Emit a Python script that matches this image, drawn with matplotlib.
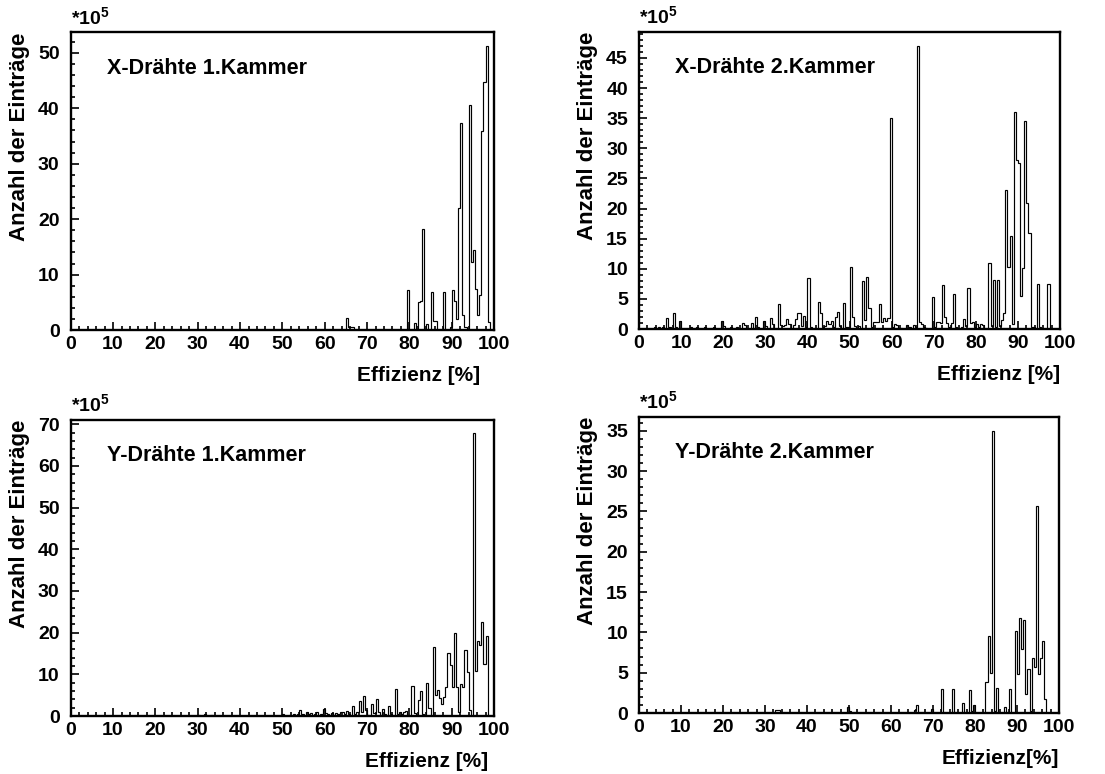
import numpy as np
import matplotlib
matplotlib.use("Agg")
import matplotlib.pyplot as plt
from matplotlib.ticker import MultipleLocator

plt.rcParams["font.family"] = ["Liberation Sans", "DejaVu Sans"]
plt.rcParams["font.weight"] = "bold"
plt.rcParams["mathtext.fontset"] = "custom"
plt.rcParams["mathtext.rm"] = "Liberation Sans:bold"
plt.rcParams["mathtext.bf"] = "Liberation Sans:bold"

# bin width 0.5 %, only non-empty bins listed (left edge, entries / 1e5)
x1_left = [65.0, 65.5, 66.0, 66.5, 79.5, 81.0, 82.0, 82.5, 83.0, 84.0, 85.0, 85.5,
           86.0, 88.0, 89.5, 90.0, 90.5, 91.0, 91.5, 92.0, 92.5, 93.0, 94.0, 94.5,
           95.0, 95.5, 96.0, 96.5, 97.0, 97.5, 98.0, 98.5]
x1_count = [2.2, 0.6, 0.6, 0.5, 7.2, 1.2, 5.0, 5.3, 18.3, 1.0, 6.9, 1.6,
            1.6, 6.9, 0.6, 7.2, 5.2, 2.0, 22.0, 37.3, 2.7, 0.6, 40.6, 12.2,
            14.4, 7.4, 2.7, 6.4, 35.9, 44.8, 51.2, 1.5]

x2_left = [3.5, 4.5, 5.5, 6.5, 7.0, 8.0, 8.5, 9.5, 12.0, 13.5, 15.5, 17.5, 19.5, 20.0,
           21.5, 23.0, 24.5, 25.0, 26.5, 27.5, 28.0, 29.5, 30.0, 31.0, 31.5, 33.0,
           33.5, 34.0, 34.5, 35.0, 35.5, 36.5, 37.0, 37.5, 38.0, 38.5, 39.0, 39.5,
           40.0, 40.5, 42.5, 43.0, 43.5, 44.0, 44.5, 45.0, 45.5, 46.0, 46.5, 47.0,
           47.5, 48.5, 49.0, 49.5, 50.0, 50.5, 51.0, 52.0, 53.0, 53.5, 54.0, 54.5,
           55.0, 55.5, 56.0, 56.5, 57.0, 57.5, 58.0, 58.5, 59.0, 59.5, 60.0, 60.5,
           61.0, 62.0, 63.5, 64.0, 65.0, 65.5, 66.0, 66.5, 67.0, 67.5, 68.0, 69.5,
           70.0, 70.5, 71.0, 71.5, 72.0, 72.5, 73.0, 73.5, 74.0, 74.5, 75.0, 76.5,
           77.0, 77.5, 78.0, 78.5, 79.0, 79.5, 80.0, 80.5, 81.0, 81.5, 83.0, 83.5,
           84.0, 84.5, 85.0, 85.5, 86.0, 86.5, 87.0, 87.5, 88.0, 88.5, 89.0, 89.5,
           90.0, 90.5, 91.0, 91.5, 92.0, 92.5, 93.0, 93.5, 94.5, 95.0, 97.0]
x2_count = [0.4, 0.3, 0.4, 1.8, 0.3, 2.7, 0.4, 1.4, 0.4, 0.4, 0.4, 0.4, 1.4, 0.5,
            0.4, 0.4, 1.0, 0.6, 1.0, 2.0, 0.3, 1.3, 0.5, 1.8, 0.9, 4.2,
            0.6, 0.5, 0.6, 1.7, 0.8, 0.6, 1.7, 2.6, 2.6, 0.5, 2.2, 0.4,
            8.5, 0.3, 4.5, 2.6, 0.4, 0.5, 1.4, 0.9, 1.4, 0.4, 2.0, 2.8,
            0.5, 4.3, 0.3, 0.3, 10.3, 2.0, 0.5, 0.5, 8.0, 1.5, 8.6, 3.5,
            0.4, 1.2, 1.2, 1.2, 4.2, 1.2, 1.8, 1.3, 1.8, 35.0, 0.4, 0.8,
            0.7, 0.2, 0.7, 0.3, 0.7, 0.4, 47.0, 1.2, 0.8, 0.4, 0.2, 5.3,
            0.3, 1.1, 1.1, 1.0, 7.3, 2.0, 1.0, 0.3, 1.0, 5.8, 0.4, 0.3,
            1.7, 0.5, 6.8, 1.0, 1.2, 0.4, 0.8, 0.3, 0.8, 0.6, 11.0, 0.5,
            8.1, 0.4, 8.1, 0.5, 1.5, 2.7, 23.0, 10.3, 15.5, 0.8, 36.0, 28.0,
            27.5, 5.5, 10.2, 34.5, 21.0, 16.0, 0.4, 0.4, 7.4, 0.3, 7.5]

y1_left = [30.0, 31.5, 33.0, 50.0, 51.5, 52.5, 53.5, 54.0, 54.5, 55.5, 56.0, 56.5,
           57.5, 58.0, 59.0, 59.5, 60.0, 60.5, 61.5, 62.0, 62.5, 63.0, 63.5, 64.0,
           64.5, 65.0, 65.5, 66.5, 67.0, 67.5, 68.0, 68.5, 69.0, 69.5, 70.0, 71.0,
           71.5, 72.0, 72.5, 73.0, 73.5, 74.0, 75.0, 75.5, 76.5, 77.0, 77.5, 78.0,
           78.5, 79.0, 79.5, 80.5, 81.0, 82.0, 82.5, 83.0, 84.0, 84.5, 85.5, 86.0,
           86.5, 87.0, 87.5, 88.0, 88.5, 89.0, 89.5, 90.0, 90.5, 91.0, 91.5, 92.0,
           92.5, 93.0, 93.5, 94.0, 95.0, 95.5, 96.0, 96.5, 97.0, 97.5, 98.0]
y1_count = [0.3, 0.4, 0.3, 0.5, 0.3, 0.6, 0.6, 1.5, 0.4, 1.0, 0.6, 0.8,
            0.5, 1.0, 0.4, 1.6, 0.8, 0.5, 0.7, 0.3, 0.8, 0.4, 1.0, 1.0,
            0.5, 1.2, 0.5, 2.3, 0.6, 1.0, 3.6, 1.0, 4.7, 1.5, 0.3, 3.0,
            0.8, 4.2, 1.0, 0.3, 1.7, 0.4, 2.5, 0.4, 6.5, 0.6, 1.0, 0.5,
            1.0, 1.3, 0.3, 7.2, 0.8, 3.8, 6.0, 0.5, 8.0, 2.0, 16.5, 5.0,
            6.3, 4.3, 2.8, 4.5, 7.0, 15.0, 12.3, 7.0, 19.8, 7.0, 1.0, 7.6,
            7.0, 15.8, 10.5, 1.5, 68.0, 10.8, 18.0, 17.0, 22.5, 12.4, 19.3]

y2_left = [32.5, 33.0, 49.5, 50.0, 65.5, 66.0, 69.5, 72.0, 74.5, 77.0, 78.5, 79.0,
           79.5, 82.5, 83.0, 83.5, 84.0, 84.5, 85.0, 87.0, 88.0, 89.5, 90.0, 90.5,
           91.0, 91.5, 92.0, 92.5, 93.0, 93.5, 94.0, 94.5, 95.0, 95.5, 96.0, 96.5]
y2_count = [0.4, 0.4, 0.8, 0.3, 0.4, 1.0, 0.5, 3.0, 3.0, 1.3, 2.8, 0.3,
            1.0, 3.9, 9.5, 5.0, 35.0, 0.2, 3.1, 0.8, 3.0, 10.2, 4.8, 11.8,
            7.9, 11.5, 2.3, 5.4, 0.2, 6.8, 5.7, 25.7, 4.8, 6.8, 8.9, 1.7]

panels = [
    ("X-Drähte 1.Kammer", x1_left, x1_count, 53.7, 10, 2, "Effizienz [%]", 0.967),
    ("X-Drähte 2.Kammer", x2_left, x2_count, 49.3, 5, 1, "Effizienz [%]", 1.0),
    ("Y-Drähte 1.Kammer", y1_left, y1_count, 71.0, 10, 2, "Effizienz [%]", 0.986),
    ("Y-Drähte 2.Kammer", y2_left, y2_count, 36.7, 5, 1, "Effizienz[%]", 1.0),
]

# axes rectangles in figure fractions
rects = [
    [0.064, 0.5736, 0.3831, 0.3846],
    [0.5783, 0.5749, 0.381, 0.3837],
    [0.064, 0.0749, 0.3831, 0.3824],
    [0.5783, 0.0788, 0.380, 0.3824],
]

edges = np.arange(0, 100.5, 0.5)

fig = plt.figure(figsize=(11.05, 7.74), dpi=100)

for (title, lefts, counts, ytop, ymaj, ymin, xlab, xlab_pos), rect in zip(panels, rects):
    ax = fig.add_axes(rect)
    hist = np.zeros(len(edges) - 1)
    for l, c in zip(lefts, counts):
        hist[int(round(l / 0.5))] = c
    ax.stairs(hist, edges, color="black", lw=0.85)

    ax.set_xlim(0, 100)
    ax.set_ylim(0, ytop)
    ax.xaxis.set_major_locator(MultipleLocator(10))
    ax.xaxis.set_minor_locator(MultipleLocator(2))
    ax.yaxis.set_major_locator(MultipleLocator(ymaj))
    ax.yaxis.set_minor_locator(MultipleLocator(ymin))
    ax.tick_params(which="both", direction="in", width=1.2, labelsize=14)
    ax.tick_params(which="major", length=6)
    ax.tick_params(which="minor", length=3)
    ax.tick_params(axis="y", which="both", pad=8)
    ax.tick_params(axis="x", which="both", pad=4)
    for lab in ax.get_xticklabels() + ax.get_yticklabels():
        lab.set_fontweight("bold")
    for sp in ax.spines.values():
        sp.set_linewidth(1.7)

    ax.set_ylabel("Anzahl der Einträge", fontsize=16, fontweight="bold", loc="top", labelpad=6)
    ax.set_xlabel(xlab, fontsize=15, fontweight="bold", loc="right", labelpad=10)
    ax.xaxis.label.set_x(xlab_pos)

    ax.text(0.086, 0.88, title, transform=ax.transAxes, fontsize=15.5,
            fontweight="bold", va="center", ha="left")
    ax.text(0.0, 1.012, r"*10$^{5}$", transform=ax.transAxes, fontsize=14,
            fontweight="bold", va="bottom", ha="left")

fig.savefig("out.png", dpi=100)
